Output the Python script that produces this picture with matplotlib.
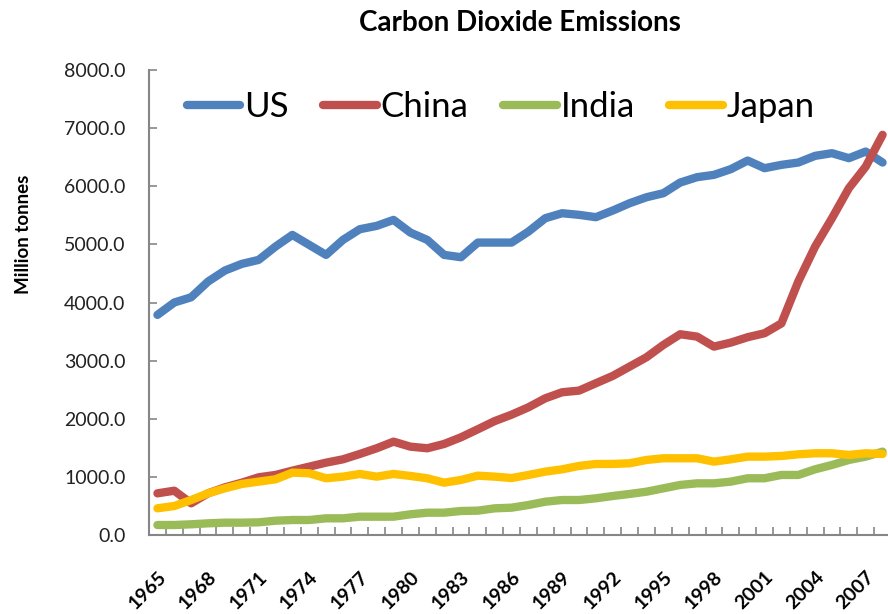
import matplotlib
matplotlib.use('Agg')
import matplotlib.pyplot as plt
import numpy as np

plt.rcParams['font.family'] = ['Lato', 'DejaVu Sans']

years = list(range(1965, 2009))

# million tonnes of CO2 per year
us = [3787, 4000, 4090, 4360, 4550, 4664, 4733, 4962, 5163, 4991,
      4819, 5077, 5261, 5318, 5421, 5203, 5077, 4819, 4779, 5031,
      5031, 5031, 5220, 5450, 5536, 5508, 5468, 5582, 5708, 5811,
      5880, 6064, 6156, 6196, 6294, 6442, 6311, 6368, 6408, 6523,
      6569, 6483, 6597, 6408]
china = [717, 762, 545, 717, 820, 900, 993, 1033, 1107, 1176,
         1245, 1302, 1394, 1492, 1606, 1520, 1492, 1566, 1681, 1819,
         1960, 2070, 2197, 2352, 2456, 2484, 2611, 2737, 2897, 3058,
         3270, 3454, 3413, 3241, 3310, 3403, 3471, 3640, 4360, 4962,
         5450, 5966, 6337, 6885]
india = [172, 172, 184, 201, 212, 212, 218, 246, 258, 258,
         287, 287, 315, 315, 315, 356, 384, 384, 413, 419,
         459, 470, 516, 573, 602, 602, 631, 671, 706, 745,
         803, 861, 889, 889, 918, 976, 976, 1033, 1033, 1130,
         1205, 1291, 1348, 1434]
japan = [459, 499, 602, 717, 803, 878, 918, 958, 1073, 1062,
         976, 1004, 1050, 1004, 1050, 1016, 976, 900, 947, 1021,
         1004, 980, 1033, 1090, 1130, 1188, 1222, 1222, 1234, 1291,
         1320, 1320, 1320, 1262, 1302, 1348, 1348, 1360, 1388, 1406,
         1406, 1377, 1406, 1394]

series = [('US', us, '#4F81BD'), ('China', china, '#C0504D'),
          ('India', india, '#9BBB59'), ('Japan', japan, '#FFC000')]

fig = plt.figure(figsize=(8.88, 6.14), dpi=100)
ax = fig.add_axes([149/888, 79/614, 742/888, 465/614])

x = np.arange(len(years))
for name, vals, col in series:
    ax.plot(x, vals, color=col, lw=6, label=name, solid_capstyle='round', solid_joinstyle='round')

ax.set_xlim(-0.5, len(years) - 0.5)
ax.set_ylim(0, 8000)
ax.set_yticks(np.arange(0, 8001, 1000))
ax.set_yticklabels([f'{v:.1f}' for v in np.arange(0, 8001, 1000)], fontsize=14, color='#222222')

ax.set_xticks(x[::3])
ax.set_xticklabels([str(y) for y in years[::3]], rotation=45, ha='right',
                   rotation_mode='anchor', fontsize=14, fontweight='bold')
ax.set_xticks(np.arange(-0.5, len(years), 1), minor=True)
ax.tick_params(axis='x', which='major', length=0, pad=24)
ax.tick_params(axis='x', which='minor', direction='in', length=6, color='#868686', width=1.2)
ax.tick_params(axis='y', direction='in', length=6, color='#868686', width=1.2, pad=17)

for s in ['top', 'right']:
    ax.spines[s].set_visible(False)
for s in ['left', 'bottom']:
    ax.spines[s].set_color('#868686')
    ax.spines[s].set_linewidth(1.5)

ax.set_ylabel('Million tonnes', fontsize=13.5, fontweight='bold')
ax.yaxis.set_label_coords(-0.158, 0.647)

leg = ax.legend(loc='upper left', bbox_to_anchor=(0.032, 0.985), ncol=4, frameon=False,
                fontsize=25, handlelength=1.55, handletextpad=0.1, columnspacing=1.0,
                borderaxespad=0)

fig.text(0.585, 0.962, 'Carbon Dioxide Emissions', ha='center', va='center',
         fontsize=20, fontweight='bold')

fig.savefig('out.png', dpi=100)
